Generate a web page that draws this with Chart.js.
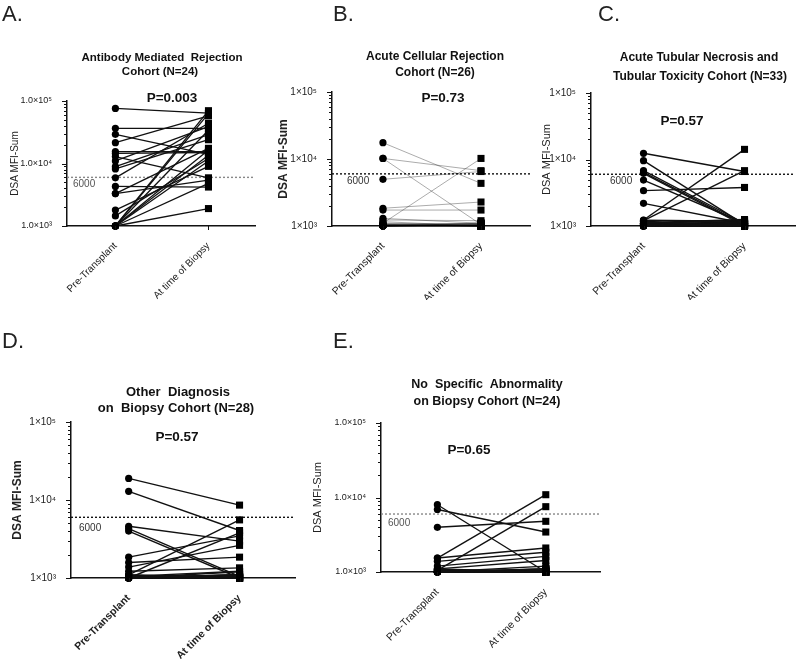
<!DOCTYPE html>
<html><head><meta charset="utf-8">
<script src="https://cdn.jsdelivr.net/npm/chart.js@4.4.1/dist/chart.umd.min.js"></script>
<style>
html,body{margin:0;padding:0;background:#fff;}
body{width:800px;height:659px;position:relative;overflow:hidden;}
canvas{position:absolute;}
</style></head><body>
<canvas id="cA" width="262" height="300" style="left:0px;top:0px"></canvas>
<canvas id="cB" width="270" height="300" style="left:265px;top:0px"></canvas>
<canvas id="cC" width="270" height="300" style="left:530px;top:0px"></canvas>
<canvas id="cD" width="300" height="339" style="left:0px;top:320px"></canvas>
<canvas id="cE" width="300" height="339" style="left:305px;top:320px"></canvas>
<script>
// ---------- DATA ----------
const categories = ['Pre-Transplant', 'At time of Biopsy'];
const yTickValues = [1000, 10000, 100000];
const yTickLabelsLong = ['1.0×10³', '1.0×10⁴', '1.0×10⁵'];
const yTickLabelsShort = ['1×10³', '1×10⁴', '1×10⁵'];
const yAxisTitle = 'DSA MFI-Sum';
const threshold = 6000;
const panelLetters = ['A.', 'B.', 'C.', 'D.', 'E.'];
const panelTitles = [
  ['Antibody Mediated  Rejection', 'Cohort (N=24)'],
  ['Acute Cellular Rejection', 'Cohort (N=26)'],
  ['Acute Tubular Necrosis and', 'Tubular Toxicity Cohort (N=33)'],
  ['Other  Diagnosis', 'on  Biopsy Cohort (N=28)'],
  ['No  Specific  Abnormality', 'on Biopsy Cohort (N=24)']
];
const pValues = ['P=0.003', 'P=0.73', 'P=0.57', 'P=0.57', 'P=0.65'];

const preA  = [76000, 36500, 29300, 21500, 15500, 14500, 12900, 11000, 8900, 8200, 5900, 4300, 3300, 3300, 1800, 1450, 1000, 1000, 1000, 1000, 1000, 1000, 1000, 1000];
const postA = [64000, 36500, 14000, 58000, 15500, 15000, 5900, 39000, 29000, 24000, 44000, 4200, 5400, 17500, 9000, 12000, 70000, 63000, 34000, 16500, 13500, 11000, 4800, 1900];

const preB  = [17500, 10200, 10200, 4980, 1840, 1730, 1300, 1230, 1160, 1100, 1100, 1050, 1050, 1000, 1000, 1030, 1000, 1060, 1000, 1000, 1030, 1000, 1080, 1000, 1000, 1000];
const postB = [4330, 6700, 1050, 6500, 2280, 1730, 1100, 1200, 1000, 10200, 1050, 1000, 1100, 1000, 1050, 1000, 1100, 1000, 1050, 1000, 1030, 1100, 1000, 1050, 1000, 1000];

const preC  = [12400, 9600, 6800, 6400, 6200, 4900, 3400, 2190, 1230, 1200, 1150, 1100, 1100, 1050, 1050, 1000, 1180, 1000, 1120, 1000, 1060, 1000, 1220, 1000, 1080, 1000, 1150, 1000, 1030, 1000, 1100, 1000, 1000];
const postC = [6600, 1050, 1100, 1050, 1000, 1100, 3800, 1100, 14200, 6800, 1000, 1220, 1050, 1100, 1000, 1150, 1000, 1050, 1250, 1000, 1100, 1000, 1180, 1000, 1000, 1100, 1000, 1200, 1050, 1000, 1130, 1100, 1000];

const preD  = [18900, 12900, 4600, 4300, 4000, 1850, 1580, 1380, 1220, 1100, 1050, 1000, 1000, 1050, 1000, 1100, 1000, 1000, 1030, 1000, 1000, 1080, 1000, 1000, 1000, 1000, 1000, 1000];
const postD = [8600, 4060, 2970, 1050, 1000, 3470, 1850, 2620, 1350, 5560, 1220, 3800, 1100, 1000, 1050, 1000, 1100, 1000, 1000, 1200, 1000, 1050, 1000, 1000, 1100, 1000, 1000, 1000];

const preE  = [8000, 6900, 3980, 1540, 1540, 1390, 1200, 1100, 1050, 1000, 1000, 1050, 1000, 1000, 1100, 1000, 1000, 1030, 1000, 1000, 1000, 1080, 1000, 1000];
const postE = [1000, 3440, 4790, 10900, 2100, 1840, 1620, 1430, 7530, 1200, 1100, 1000, 1050, 1000, 1000, 1100, 1000, 1000, 1050, 1000, 1000, 1000, 1100, 1000];

// ---------- LAYOUT / STYLE ----------
const FAM = '"Liberation Sans", Arial, Helvetica, sans-serif';
Chart.defaults.font.family = FAM;
Chart.defaults.color = '#222';

const panels = [
  { id:'cA', ox:0, oy:0, yW:67, xH:74, padTop:101, padRight:7, pre:preA, post:postA,
    letter:[2,4], titleFont:'bold 11.5px', titlePos:[[162,58],[160,72]], pPos:[172,98],
    thrLabel:[73,184], thrColor:'#888', thrLabelColor:'#555', lineColor:'#111', lineWidth:1.3,
    yLabels:yTickLabelsLong, yFont:{size:9}, yTitleFont:{size:10}, yTitlePad:9, xFont:{size:10} },
  { id:'cB', ox:265, oy:0, yW:67, xH:74, padTop:92, padRight:4, pre:preB, post:postB,
    letter:[333,4], titleFont:'bold 12px', titlePos:[[435,57],[435,73]], pPos:[443,98],
    thrLabel:[347,181], thrColor:'#111', thrLabelColor:'#333', lineColor:'rgba(0,0,0,0.33)', lineWidth:1,
    yLabels:yTickLabelsShort, yFont:{size:10}, yTitleFont:{size:12, weight:'bold'}, yTitlePad:11, xFont:{size:10.5} },
  { id:'cC', ox:530, oy:0, yW:61, xH:74, padTop:93, padRight:1, pre:preC, post:postC,
    letter:[598,4], titleFont:'bold 12px', titlePos:[[699,58],[700,77]], pPos:[682,121],
    thrLabel:[610,181], thrColor:'#111', thrLabelColor:'#333', lineColor:'#111', lineWidth:1.4,
    yLabels:yTickLabelsShort, yFont:{size:10}, yTitleFont:{size:11}, yTitlePad:10, xFont:{size:10.5} },
  { id:'cD', ox:0, oy:320, yW:71, xH:81, padTop:102, padRight:5, pre:preD, post:postD,
    letter:[2,331], titleFont:'bold 13px', titlePos:[[178,392],[176,408]], pPos:[177,437],
    thrLabel:[79,528], thrColor:'#111', thrLabelColor:'#333', lineColor:'#111', lineWidth:1.4,
    yLabels:yTickLabelsShort, yFont:{size:10}, yTitleFont:{size:12, weight:'bold'}, yTitlePad:10, xFont:{size:10.5, weight:'bold'} },
  { id:'cE', ox:305, oy:320, yW:76, xH:87, padTop:103, padRight:2, pre:preE, post:postE,
    letter:[333,331], titleFont:'bold 12.5px', titlePos:[[487,385],[487,402]], pPos:[469,450],
    thrLabel:[388,523], thrColor:'#888', thrLabelColor:'#555', lineColor:'#111', lineWidth:1.4,
    yLabels:yTickLabelsLong, yFont:{size:9}, yTitleFont:{size:11}, yTitlePad:6, xFont:{size:10.5} }
];

const decor = {
  id: 'decor',
  beforeDatasetsDraw(chart, args, o) {
    const {ctx, chartArea, scales:{y}} = chart;
    const p = o.p;
    const ty = y.getPixelForValue(threshold);
    ctx.save();
    ctx.setLineDash([2, 2]);
    ctx.lineWidth = 1.4;
    ctx.strokeStyle = p.thrColor;
    ctx.beginPath(); ctx.moveTo(chartArea.left, ty); ctx.lineTo(chartArea.right, ty); ctx.stroke();
    ctx.restore();
  },
  afterDraw(chart, args, o) {
    const {ctx, chartArea, scales:{x, y}} = chart;
    const p = o.p, i = o.i;
    ctx.save();
    ctx.strokeStyle = '#111'; ctx.lineWidth = 1;
    for (let d = 1000; d <= 100000; d *= 10) {
      for (let m = 1; m <= 9; m++) {
        const v = d * m; if (v > 100000) break;
        const py = Math.round(y.getPixelForValue(v)) + 0.5;
        const len = m === 1 ? 5 : 3;
        ctx.beginPath(); ctx.moveTo(chartArea.left, py); ctx.lineTo(chartArea.left - len, py); ctx.stroke();
      }
    }
    categories.forEach((c, k) => {
      const px = Math.round(x.getPixelForValue(k)) + 0.5;
      ctx.beginPath(); ctx.moveTo(px, chartArea.bottom); ctx.lineTo(px, chartArea.bottom + 4); ctx.stroke();
    });
    ctx.fillStyle = '#111';
    ctx.textAlign = 'center'; ctx.textBaseline = 'middle';
    ctx.font = p.titleFont + ' ' + FAM;
    panelTitles[i].forEach((t, k) => ctx.fillText(t, p.titlePos[k][0] - p.ox, p.titlePos[k][1] - p.oy));
    ctx.font = 'bold 13.5px ' + FAM;
    ctx.fillText(pValues[i], p.pPos[0] - p.ox, p.pPos[1] - p.oy);
    ctx.textAlign = 'left';
    ctx.font = '10px ' + FAM; ctx.fillStyle = p.thrLabelColor;
    ctx.fillText(String(threshold), p.thrLabel[0] - p.ox, p.thrLabel[1] - p.oy);
    ctx.textBaseline = 'top'; ctx.fillStyle = '#222';
    ctx.font = '22px ' + FAM;
    ctx.fillText(panelLetters[i], p.letter[0] - p.ox, p.letter[1] - p.oy);
    ctx.restore();
  }
};

panels.forEach((p, i) => {
  const datasets = p.pre.map((v, k) => ({
    data: [{x:0, y:v}, {x:1, y:p.post[k]}],
    borderColor: p.lineColor,
    borderWidth: p.lineWidth,
    pointStyle: ['circle', 'rect'],
    pointRadius: [3.6, 5],
    pointBackgroundColor: '#000',
    pointBorderColor: '#000',
    pointBorderWidth: 0,
    clip: false
  }));
  new Chart(document.getElementById(p.id), {
    type: 'line',
    data: { datasets },
    plugins: [decor],
    options: {
      responsive: false, animation: false, events: [],
      layout: { padding: { top: p.padTop, right: p.padRight, left: 0, bottom: 0 } },
      plugins: { legend: {display:false}, tooltip: {enabled:false}, decor: {p, i} },
      scales: {
        x: {
          type: 'linear', min: -0.52, max: 1.5,
          afterBuildTicks: s => { s.ticks = categories.map((c, k) => ({value: k})); },
          afterFit: s => { s.height = p.xH; },
          grid: { display: false },
          border: { display: true, color: '#111', width: 1.5 },
          ticks: { autoSkip: false, minRotation: 45, maxRotation: 45, padding: 6, color: '#222',
                   font: p.xFont, callback: v => categories[v] }
        },
        y: {
          type: 'logarithmic', min: 1000, max: 100000,
          afterFit: s => { s.width = p.yW; },
          grid: { display: false },
          border: { display: true, color: '#111', width: 1.5 },
          ticks: { autoSkip: false, padding: 7, color: '#222', font: p.yFont,
                   callback: v => { const j = yTickValues.findIndex(t => Math.abs(v - t) / t < 1e-6); return j >= 0 ? p.yLabels[j] : ''; } },
          title: { display: true, text: yAxisTitle, color: '#222', font: p.yTitleFont, padding: { top: p.yTitlePad, bottom: 0 } }
        }
      }
    }
  });
});
</script>
</body></html>
